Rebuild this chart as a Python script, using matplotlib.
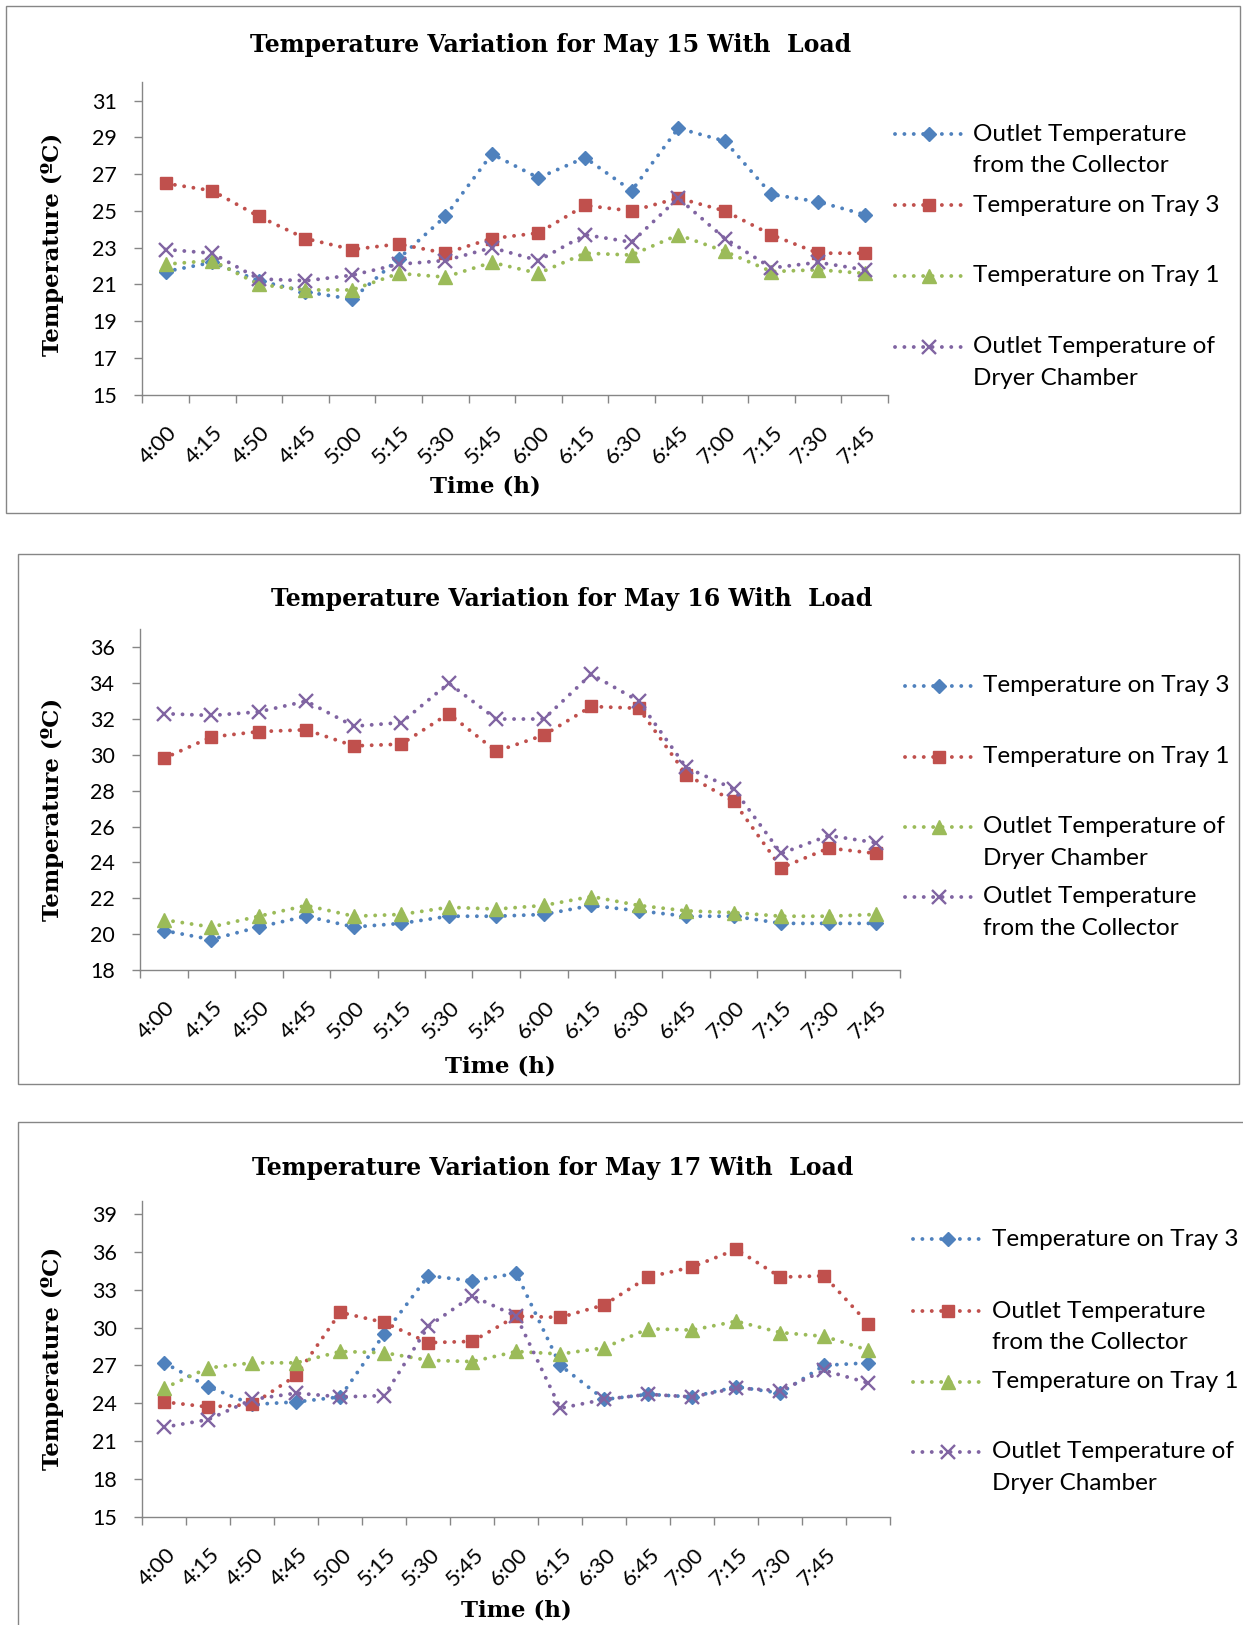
import numpy as np
import matplotlib
matplotlib.use("Agg")
import matplotlib.pyplot as plt
from matplotlib.lines import Line2D
from matplotlib.patches import Rectangle
from matplotlib.transforms import ScaledTranslation

plt.rcParams['font.family'] = ['Lato', 'DejaVu Sans']

# ---- data ----
times = ["4:00", "4:15", "4:50", "4:45", "5:00", "5:15", "5:30", "5:45",
         "6:00", "6:15", "6:30", "6:45", "7:00", "7:15", "7:30", "7:45"]

# May 15
may15_collector = [21.7, 22.2, 21.2, 20.6, 20.2, 22.4, 24.7, 28.1, 26.8, 27.9, 26.1, 29.5, 28.8, 25.9, 25.5, 24.8]
may15_tray3 = [26.5, 26.1, 24.7, 23.5, 22.9, 23.2, 22.7, 23.5, 23.8, 25.3, 25.0, 25.7, 25.0, 23.7, 22.7, 22.7]
may15_tray1 = [22.1, 22.3, 21.0, 20.7, 20.7, 21.6, 21.4, 22.2, 21.6, 22.7, 22.6, 23.7, 22.8, 21.7, 21.8, 21.6]
may15_dryer = [22.9, 22.7, 21.3, 21.2, 21.5, 22.1, 22.3, 23.0, 22.3, 23.7, 23.3, 25.7, 23.5, 21.9, 22.2, 21.8]
may15_labels = ["Outlet Temperature\nfrom the Collector", "Temperature on Tray 3",
                "Temperature on Tray 1", "Outlet Temperature of\nDryer Chamber"]

# May 16
may16_tray3 = [20.2, 19.7, 20.4, 21.0, 20.4, 20.6, 21.0, 21.0, 21.1, 21.6, 21.3, 21.0, 21.0, 20.6, 20.6, 20.6]
may16_tray1 = [29.8, 31.0, 31.3, 31.4, 30.5, 30.6, 32.3, 30.2, 31.1, 32.7, 32.6, 28.9, 27.4, 23.7, 24.8, 24.5]
may16_dryer = [20.8, 20.4, 21.0, 21.6, 21.0, 21.1, 21.5, 21.4, 21.6, 22.1, 21.6, 21.3, 21.2, 21.0, 21.0, 21.1]
may16_collector = [32.3, 32.2, 32.4, 33.0, 31.6, 31.8, 34.0, 32.0, 32.0, 34.5, 33.0, 29.3, 28.1, 24.5, 25.5, 25.1]
may16_labels = ["Temperature on Tray 3", "Temperature on Tray 1",
                "Outlet Temperature of\nDryer Chamber", "Outlet Temperature\nfrom the Collector"]

# May 17 (17 readings, only 16 time labels)
may17_tray3 = [27.2, 25.3, 23.9, 24.1, 24.5, 29.5, 34.1, 33.7, 34.3, 27.0, 24.3, 24.7, 24.5, 25.3, 24.8, 27.0, 27.2]
may17_collector = [24.1, 23.7, 23.9, 26.2, 31.2, 30.4, 28.8, 28.9, 30.9, 30.8, 31.8, 34.0, 34.8, 36.2, 34.0, 34.1, 30.3]
may17_tray1 = [25.2, 26.8, 27.2, 27.2, 28.1, 28.0, 27.4, 27.3, 28.1, 27.9, 28.4, 29.9, 29.8, 30.5, 29.6, 29.3, 28.2]
may17_dryer = [22.1, 22.7, 24.3, 24.8, 24.5, 24.6, 30.1, 32.5, 30.9, 23.6, 24.3, 24.7, 24.5, 25.2, 25.0, 26.6, 25.6]
may17_labels = ["Temperature on Tray 3", "Outlet Temperature\nfrom the Collector",
                "Temperature on Tray 1", "Outlet Temperature of\nDryer Chamber"]

colors = ["#4F81BD", "#C0504D", "#9BBB59", "#8064A2"]
markers = ["D", "s", "^", "x"]
msizes = [7.0, 8.6, 9.8, 9.8]
GRAY = "#868686"
LW = 2.8
DOT = (0, (0.01, 2.4))

W, H = 1243, 1625
fig = plt.figure(figsize=(W / 100, H / 100), dpi=100)


def fx(x):
    return x / W


def fy(y):
    return 1 - y / H


def frame(x0, y0, x1, y1):
    fig.add_artist(Rectangle((fx(x0), fy(y1)), (x1 - x0) / W, (y1 - y0) / H,
                             transform=fig.transFigure, fill=False,
                             edgecolor=GRAY, lw=1.0))


def style(i):
    kw = dict(color=colors[i], marker=markers[i], ms=msizes[i],
              mfc=colors[i], mec=colors[i], lw=LW, linestyle=DOT,
              dash_capstyle="round")
    if markers[i] == "x":
        kw["mew"] = 1.7
    return kw


def panel(box, axpos, title, title_xy, xlab_xy, ylab_xy, series, labels,
          ylim, yticks, legend_x, legend_y):
    frame(*box)
    l, t, r, b = axpos
    ax = fig.add_axes([fx(l), fy(b), (r - l) / W, (b - t) / H])
    n = len(series[0])
    x = np.arange(n) + 0.5
    for i, s in enumerate(series):
        ax.plot(x, s, **style(i))
    ax.set_xlim(0, n)
    ax.set_ylim(*ylim)
    ax.set_yticks(yticks)
    tl = list(times) + [""] * (n - len(times))
    ax.set_xticks(x)
    ax.set_xticklabels(tl)
    ax.set_xticks(np.arange(n + 1), minor=True)
    for sp in ["top", "right"]:
        ax.spines[sp].set_visible(False)
    for sp in ["left", "bottom"]:
        ax.spines[sp].set_color(GRAY)
        ax.spines[sp].set_linewidth(1.0)
    ax.tick_params(axis="y", length=5.8, width=1.0, color=GRAY, pad=12.5,
                   labelsize=15.5, labelcolor="black")
    ax.tick_params(axis="x", which="major", length=0, pad=25, labelsize=16)
    ax.tick_params(axis="x", which="minor", length=5.8, width=1.0, color=GRAY)
    off = ScaledTranslation(0.08, 0, fig.dpi_scale_trans)
    for lab in ax.get_xticklabels():
        lab.set_rotation(45)
        lab.set_ha("right")
        lab.set_va("center")
        lab.set_rotation_mode("anchor")
        lab.set_transform(lab.get_transform() + off)

    fig.text(fx(title_xy[0]), fy(title_xy[1]), title, ha="center", va="center",
             family="DejaVu Serif", weight="bold", fontsize=17)
    fig.text(fx(xlab_xy[0]), fy(xlab_xy[1]), "Time (h)", ha="center", va="center",
             family="DejaVu Serif", weight="bold", fontsize=16.5)
    fig.text(fx(ylab_xy[0]), fy(ylab_xy[1]), "Temperature (ºC)", ha="center",
             va="center", rotation=90, family="DejaVu Serif", weight="bold",
             fontsize=16.5)

    # legend drawn by hand so the marker sits on the first text line
    x0, x1, xt = legend_x
    for i, lab in enumerate(labels):
        yy = legend_y[i]
        kw = style(i)
        fig.add_artist(Line2D([fx(x0), fx(x1)], [fy(yy), fy(yy)],
                              transform=fig.transFigure, color=colors[i],
                              lw=LW, linestyle=DOT, dash_capstyle="round"))
        mk = {k: v for k, v in kw.items() if k not in ("lw", "dash_capstyle", "linestyle")}
        fig.add_artist(Line2D([fx((x0 + x1) / 2)], [fy(yy)],
                              transform=fig.transFigure, linestyle="none", **mk))
        for j, line in enumerate(lab.split("\n")):
            fig.text(fx(xt), fy(yy + j * 31.6), line, ha="left", va="center",
                     fontsize=17.5, color="black")
    return ax


panel((5.7, 6, 1240, 512.7), (142.3, 82.3, 888, 394.7),
      "Temperature Variation for May 15 With  Load", (551, 44.6), (485, 486), (53, 244),
      [may15_collector, may15_tray3, may15_tray1, may15_dryer], may15_labels,
      (15, 32), np.arange(15, 32, 2), (895, 963, 973), [134.3, 205, 276, 346.7])

panel((18, 554, 1238.5, 1084.3), (140, 629.4, 900, 970),
      "Temperature Variation for May 16 With  Load", (572, 599), (500, 1067), (53, 809),
      [may16_tray3, may16_tray1, may16_dryer, may16_collector], may16_labels,
      (18, 37), np.arange(18, 37, 2), (905, 973, 983), [686, 756.7, 826.7, 896.7])

panel((18, 1121.7, 1246, 1645), (142.3, 1201.4, 890.3, 1516.7),
      "Temperature Variation for May 17 With  Load", (553, 1168), (516, 1611), (53, 1358),
      [may17_tray3, may17_collector, may17_tray1, may17_dryer], may17_labels,
      (15, 40), np.arange(15, 40, 3), (913, 982, 992), [1239.3, 1311, 1381.7, 1451.7])

fig.savefig("out.png", dpi=100)
